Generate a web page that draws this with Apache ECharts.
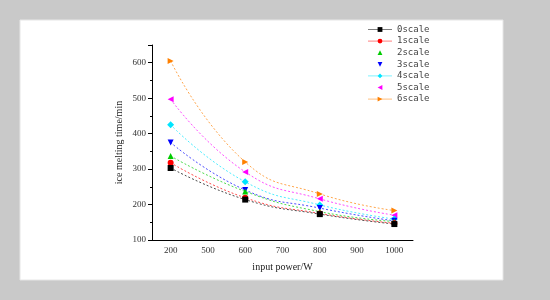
<!DOCTYPE html>
<html>
<head>
<meta charset="utf-8">
<script src="https://cdn.jsdelivr.net/npm/echarts@6/dist/echarts.min.js"></script>
<style>
  html, body { margin: 0; padding: 0; background: #c9c9c9; }
  #chart { width: 550px; height: 300px; }
</style>
</head>
<body>
<div id="chart"></div>
<script>
// x categories (axis labels as printed in the figure)
const powerTicks = ['200', '500', '600', '700', '800', '900', '1000']
const powerPoints = ['200', '600', '800', '1000']

const scaleNames = ['0scale', '1scale', '2scale', '3scale', '4scale', '5scale', '6scale']
const scale0 = [303, 214, 173, 145]
const scale1 = [318, 219, 175, 147]
const scale2 = [337, 237, 180, 152]
const scale3 = [375, 241, 190, 154]
const scale4 = [425, 264, 199, 159]
const scale5 = [497, 292, 216, 170]
const scale6 = [605, 320, 230, 183]

const allValues = [scale0, scale1, scale2, scale3, scale4, scale5, scale6]
const colors = ['#000000', '#ff0000', '#00cc00', '#0000ff', '#00e5ff', '#ff00ff', '#ff8000']
const symbols = ['rect', 'circle', 'triangle', 'triangle', 'diamond', 'triangle', 'triangle']
const rotations = [0, 0, 0, 180, 0, 90, -90]
const legendNoLine = [false, false, true, true, false, true, false]

const serif = 'Liberation Serif'

const chart = echarts.init(document.getElementById('chart'))

const seriesList = scaleNames.map((name, i) => ({
    type: 'line',
    name: name,
    smooth: true,
    data: powerPoints.map((p, j) => [p, allValues[i][j]]),
    symbol: symbols[i],
    symbolRotate: rotations[i],
    symbolSize: symbols[i] === 'diamond' ? 7 : 6,
    itemStyle: { color: colors[i] },
    lineStyle: { color: colors[i], width: 1, type: [2, 2], opacity: 0.7 },
    emphasis: { disabled: true },
    z: 10 - i,
}))

chart.setOption({
    animation: false,
    backgroundColor: '#c9c9c9',
    graphic: [{
        type: 'rect',
        shape: { x: 20, y: 20, width: 483, height: 260 },
        style: { fill: '#ffffff', stroke: '#e6e6e6', lineWidth: 1 },
        z: -10,
    }],
    legend: {
        orient: 'vertical',
        left: 367,
        top: 25,
        padding: 0,
        itemWidth: 24,
        itemHeight: 6,
        itemGap: 2.6,
        textStyle: { fontFamily: 'DejaVu Sans Mono', fontSize: 9, color: '#444', lineHeight: 9 },
        data: scaleNames.map((n, i) => legendNoLine[i]
            ? { name: n, lineStyle: { opacity: 0 } }
            : { name: n, lineStyle: { opacity: 0.5, type: 'solid', width: 1 } }),
    },
    grid: {
        left: 152,
        right: 137,
        top: 45,
        bottom: 60,
    },
    xAxis: {
        type: 'category',
        data: powerTicks,
        boundaryGap: true,
        name: 'input power/W',
        nameLocation: 'middle',
        nameGap: 22,
        nameTextStyle: { fontFamily: serif, fontSize: 10, color: '#222' },
        axisLine: { lineStyle: { color: '#000', width: 1 } },
        axisTick: { alignWithLabel: true, length: 3, lineStyle: { color: '#000' } },
        axisLabel: { fontFamily: serif, fontSize: 9, color: '#333', margin: 6 },
        splitLine: { show: false },
    },
    yAxis: {
        type: 'value',
        min: 100,
        max: 650,
        interval: 100,
        name: 'ice melting time/min',
        nameLocation: 'middle',
        nameGap: 28,
        nameTextStyle: { fontFamily: serif, fontSize: 10, color: '#222' },
        axisLine: { show: true, lineStyle: { color: '#000', width: 1 } },
        axisTick: { show: true, length: 4, lineStyle: { color: '#000' } },
        minorTick: { show: true, splitNumber: 2, length: 2, lineStyle: { color: '#000' } },
        axisLabel: { fontFamily: serif, fontSize: 9, color: '#333', margin: 6, showMaxLabel: false },
        splitLine: { show: false },
    },
    series: seriesList,
})
</script>
</body>
</html>
